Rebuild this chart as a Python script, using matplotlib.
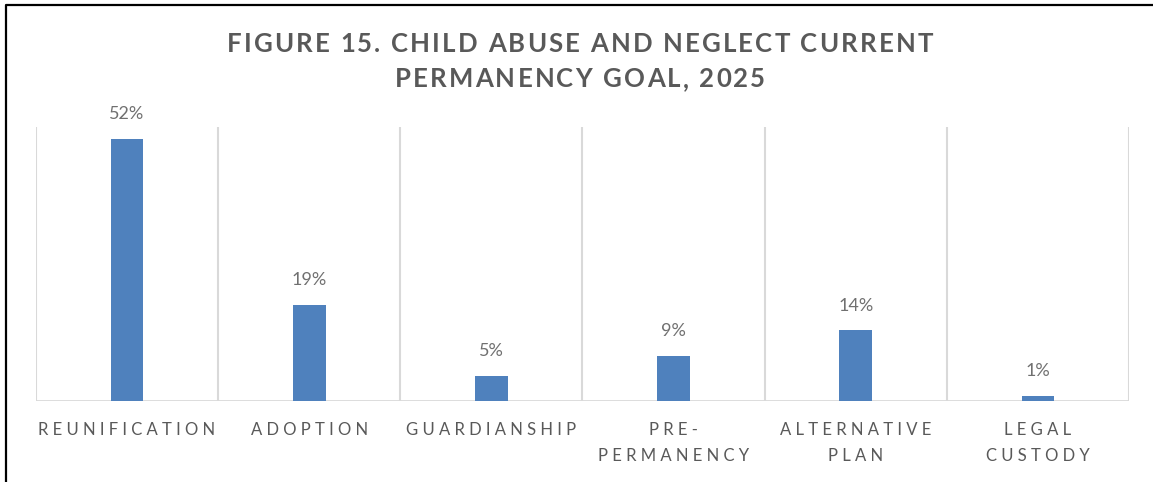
import matplotlib
matplotlib.use("Agg")
import matplotlib.pyplot as plt
from matplotlib.lines import Line2D
from matplotlib.font_manager import FontProperties

plt.rcParams['font.family'] = ['Lato', 'DejaVu Sans']

# ---- data ----
categories = ["REUNIFICATION", "ADOPTION", "GUARDIANSHIP", "PRE-\nPERMANENCY",
              "ALTERNATIVE\nPLAN", "LEGAL\nCUSTODY"]
values = [52, 19, 5, 9, 14, 1]
title_lines = ["FIGURE 15. CHILD ABUSE AND NEGLECT CURRENT", "PERMANENCY GOAL, 2025"]

BAR = "#4f81bd"
GRID = "#d9d9d9"
TXT = "#595959"
W, H = 1153, 482


def track(s):
    # fake letter spacing for tick labels: space between letters
    lines = []
    for line in s.split("\n"):
        words = [" ".join(w) for w in line.split(" ")]
        lines.append("   ".join(words))
    return "\n".join(lines)


def tracked_line(fig, cx, base_y, s, prop, color, gap):
    # draw one centred line char by char with extra spacing (pixel coords)
    r = fig.canvas.get_renderer()
    widths = [r.get_text_width_height_descent(c, prop, ismath=False)[0] for c in s]
    total = sum(widths) + gap * (len(s) - 1)
    x = cx - total / 2
    for c, w in zip(s, widths):
        fig.text(x / W, 1 - base_y / H, c, fontproperties=prop, color=color,
                 ha="left", va="baseline")
        x += w + gap


fig = plt.figure(figsize=(W / 100, H / 100), dpi=100)
ax = fig.add_axes([0.0312, 0.168, 0.948, 0.5685])

x = range(len(values))
ax.bar(x, values, width=0.18, color=BAR, zorder=3)
for xi, v in zip(x, values):
    ax.annotate(f"{v}%", (xi, v), textcoords="offset points", xytext=(0, 12),
                ha="center", va="bottom", fontsize=13, color="#707070")

ax.set_xlim(-0.5, len(values) - 0.5)
ax.set_ylim(0, 54.3)
for b in range(len(values) + 1):
    ax.axvline(b - 0.5, color=GRID, lw=1.5, zorder=1)
ax.axhline(0, color=GRID, lw=2, zorder=2)
for s in ax.spines.values():
    s.set_visible(False)
ax.set_yticks([])
ax.set_xticks(list(x))
ax.set_xticklabels([track(c) for c in categories], fontsize=12, color=TXT,
                   linespacing=1.8, va="top")
ax.tick_params(axis="x", length=0, pad=15)

tprop = FontProperties(family=['Lato', 'DejaVu Sans'], weight="bold", size=18.5)
tracked_line(fig, 580, 52, title_lines[0], tprop, TXT, 2.15)
tracked_line(fig, 580, 87, title_lines[1], tprop, TXT, 2.15)

# outer frame (left and top edges)
fig.add_artist(Line2D([0.0052, 0.0052, 1.0], [0.0, 0.9896, 0.9896],
                      transform=fig.transFigure, color="black", lw=1.6))

fig.savefig("out.png", dpi=100)
